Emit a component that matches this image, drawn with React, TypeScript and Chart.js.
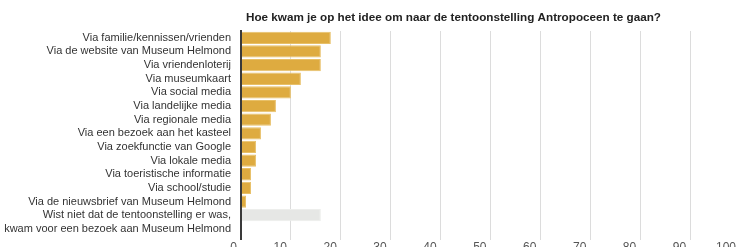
import React, { useEffect, useRef } from "react";
import { Chart, registerables } from "chart.js";

Chart.register(...registerables);

const TITLE = "Hoe kwam je op het idee om naar de tentoonstelling Antropoceen te gaan?";

const categories: (string | string[])[] = [
  "Via familie/kennissen/vrienden",
  "Via de website van Museum Helmond",
  "Via vriendenloterij",
  "Via museumkaart",
  "Via social media",
  "Via landelijke media",
  "Via regionale media",
  "Via een bezoek aan het kasteel",
  "Via zoekfunctie van Google",
  "Via lokale media",
  "Via toeristische informatie",
  "Via school/studie",
  "Via de nieuwsbrief van Museum Helmond",
  ["Wist niet dat de tentoonstelling er was,", "kwam voor een bezoek aan Museum Helmond"],
];

const counts = [18, 16, 16, 12, 10, 7, 6, 4, 3, 3, 2, 2, 1, 16];

const X_MIN = 0;
const X_MAX = 100;
const X_STEP = 10;

const GOLD = "#DEAB40";
const GREY = "#E6E7E5";
const FONT = '"Liberation Sans", Arial, sans-serif';

export default function App() {
  const ref = useRef<HTMLCanvasElement | null>(null);

  useEffect(() => {
    const canvas = ref.current;
    if (!canvas) return;

    const extraLines = {
      id: "extraLines",
      afterDraw(chart: any) {
        const ctx = chart.ctx;
        const ys = chart.scales.y;
        ctx.save();
        // remaining lines of multi-line category labels
        ctx.font = `11px ${FONT}`;
        ctx.fillStyle = "#333";
        ctx.textAlign = "right";
        ctx.textBaseline = "middle";
        categories.forEach((lab, i) => {
          if (Array.isArray(lab)) {
            const py = ys.getPixelForTick(i);
            for (let k = 1; k < lab.length; k++) {
              ctx.fillText(lab[k], ys.right - 10, py + k * 13.4);
            }
          }
        });
        // title
        ctx.font = `bold 11.7px ${FONT}`;
        ctx.fillStyle = "#222";
        ctx.textAlign = "left";
        ctx.fillText(TITLE, chart.chartArea.left + 5, 17.5);
        ctx.restore();
      },
    };

    const chart = new Chart(canvas, {
      type: "bar",
      data: {
        labels: categories as any,
        datasets: [
          {
            data: counts,
            backgroundColor: categories.map((_, i) => (i === categories.length - 1 ? GREY : GOLD)),
            borderColor: categories.map((_, i) => (i === categories.length - 1 ? "#EDEEEC" : "#E8C068")),
            borderWidth: 1,
            barPercentage: 0.9,
            categoryPercentage: 1,
          },
        ],
      },
      options: {
        indexAxis: "y",
        animation: false,
        responsive: false,
        devicePixelRatio: 1,
        layout: { padding: { top: 31, left: 0, right: 0, bottom: 0 } },
        plugins: {
          legend: { display: false },
          title: { display: false },
          tooltip: { enabled: false },
        },
        scales: {
          x: {
            type: "linear",
            position: "bottom",
            min: X_MIN,
            max: X_MAX,
            afterFit: (s: any) => {
              s.height = 30;
            },
            ticks: {
              stepSize: X_STEP,
              align: "end",
              labelOffset: -4,
              padding: 0,
              color: "#555",
              font: { family: FONT, size: 12 },
            },
            grid: {
              color: (c: any) => (c.tick && c.tick.value === 0 ? "#3a3a3a" : "#DCDCDC"),
              lineWidth: (c: any) => (c.tick && c.tick.value === 0 ? 2 : 1),
              tickLength: 18,
              drawTicks: true,
            },
            border: { display: false },
          },
          y: {
            type: "category",
            position: "left",
            afterFit: (s: any) => {
              s.width = 241;
            },
            ticks: {
              padding: 10,
              color: "#333",
              font: { family: FONT, size: 11 },
              autoSkip: false,
              callback: (_v: any, i: number) => {
                const l = categories[i];
                return Array.isArray(l) ? l[0] : l;
              },
            },
            grid: { display: false, drawTicks: false },
            border: { display: true, color: "#3a3a3a", width: 2 },
          },
        },
      },
      plugins: [extraLines],
    });

    return () => chart.destroy();
  }, []);

  return (
    <div
      style={{
        position: "fixed",
        left: 0,
        top: 0,
        width: 739,
        height: 247,
        overflow: "hidden",
        background: "#fff",
      }}
    >
      <canvas ref={ref} width={740} height={252} style={{ display: "block" }} />
    </div>
  );
}
